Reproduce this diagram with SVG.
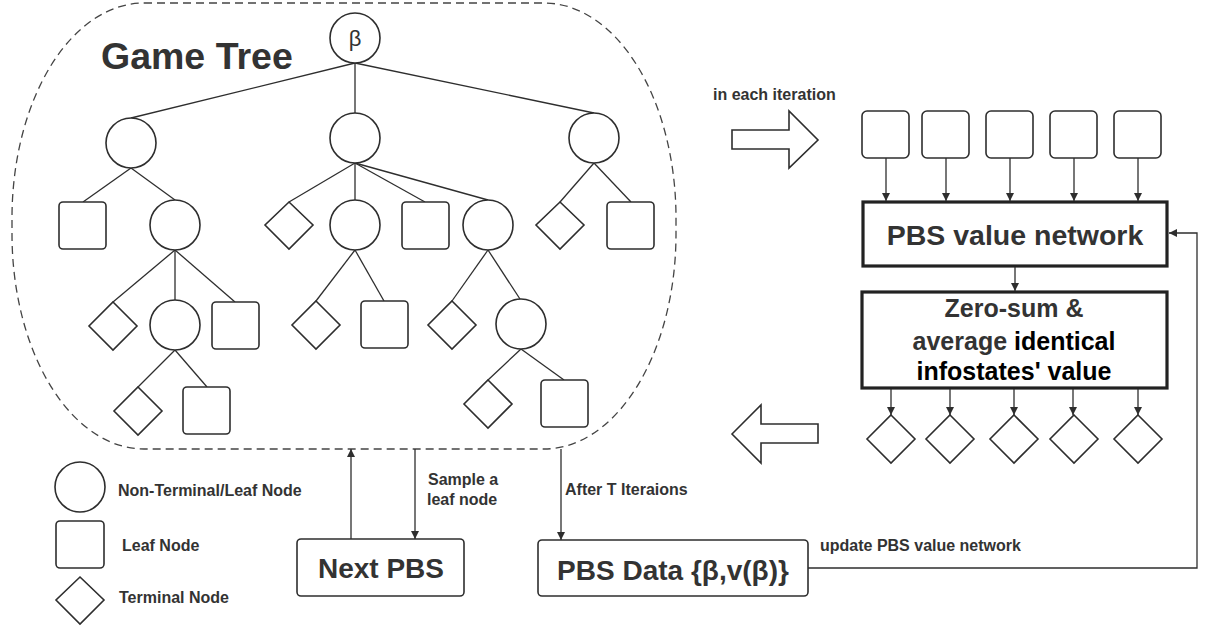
<svg xmlns="http://www.w3.org/2000/svg" width="1205" height="627" viewBox="0 0 1205 627">
<defs>
<style>
.n{fill:#fff;stroke:#2e2e2e;stroke-width:1.6}
.e{stroke:#2e2e2e;stroke-width:1.3;fill:none}
.a{stroke:#2e2e2e;stroke-width:1.3;fill:none;marker-end:url(#ah)}
.b{fill:#fff;stroke:#222;stroke-width:3.2}
.t{font-family:"Liberation Sans",Arial,sans-serif;font-weight:bold;fill:#333}
.s{font-size:16px}
.m{text-anchor:middle}
</style>
<marker id="ah" viewBox="0 0 10 10" refX="10" refY="5" markerWidth="8" markerHeight="8" markerUnits="userSpaceOnUse" orient="auto">
<path d="M0,0 L10,5 L0,10 z" fill="#2e2e2e"/>
</marker>
</defs>
<rect width="1205" height="627" fill="#fff"/>

<g id="container">
<rect x="12" y="3" width="664" height="446" rx="132" ry="215" fill="none" stroke="#444" stroke-width="1.3" stroke-dasharray="8 5"/>
<text class="t" x="101" y="69" font-size="37.5">Game Tree</text>
</g>

<g id="tree-edges">
<line class="e" x1="355" y1="63" x2="131" y2="118"/>
<line class="e" x1="355" y1="63" x2="355" y2="113"/>
<line class="e" x1="355" y1="63" x2="594" y2="113"/>
<line class="e" x1="131" y1="168" x2="83" y2="202"/>
<line class="e" x1="131" y1="168" x2="175" y2="200"/>
<line class="e" x1="355" y1="163" x2="289" y2="202"/>
<line class="e" x1="355" y1="163" x2="355" y2="200"/>
<line class="e" x1="355" y1="163" x2="425" y2="202"/>
<line class="e" x1="355" y1="163" x2="488" y2="200"/>
<line class="e" x1="594" y1="163" x2="560" y2="202"/>
<line class="e" x1="594" y1="163" x2="631" y2="202"/>
<line class="e" x1="175" y1="250" x2="113" y2="302"/>
<line class="e" x1="175" y1="250" x2="175" y2="300"/>
<line class="e" x1="175" y1="250" x2="235" y2="302"/>
<line class="e" x1="355" y1="250" x2="316" y2="301"/>
<line class="e" x1="355" y1="250" x2="384" y2="301"/>
<line class="e" x1="488" y1="250" x2="452" y2="301"/>
<line class="e" x1="488" y1="250" x2="520" y2="299"/>
<line class="e" x1="175" y1="350" x2="138" y2="387"/>
<line class="e" x1="175" y1="350" x2="207" y2="387"/>
<line class="e" x1="521" y1="349" x2="488" y2="380"/>
<line class="e" x1="521" y1="349" x2="564" y2="380"/>
</g>

<g id="root"><circle class="n" cx="355" cy="38" r="25"/><text x="355" y="46" font-size="22" text-anchor="middle" font-family="Liberation Sans,Arial,sans-serif" fill="#333">β</text></g>
<g id="c1"><circle class="n" cx="131" cy="143" r="25"/></g>
<g id="c2"><circle class="n" cx="355" cy="138" r="25"/></g>
<g id="c3"><circle class="n" cx="594" cy="138" r="25"/></g>
<g id="s1"><rect class="n" x="59" y="202" width="47" height="47" rx="4"/></g>
<g id="c4"><circle class="n" cx="175" cy="225" r="25"/></g>
<g id="d1"><polygon class="n" points="289,202 313,225 289,249 265,225"/></g>
<g id="c5"><circle class="n" cx="355" cy="225" r="25"/></g>
<g id="s2"><rect class="n" x="402" y="202" width="47" height="47" rx="4"/></g>
<g id="c6"><circle class="n" cx="488" cy="225" r="25"/></g>
<g id="d2"><polygon class="n" points="560,202 584,225 560,249 536,225"/></g>
<g id="s3"><rect class="n" x="607" y="202" width="47" height="47" rx="4"/></g>
<g id="d3"><polygon class="n" points="113,302 137,326 113,350 89,326"/></g>
<g id="c7"><circle class="n" cx="175" cy="325" r="25"/></g>
<g id="s4"><rect class="n" x="212" y="302" width="47" height="47" rx="4"/></g>
<g id="d4"><polygon class="n" points="316,301 340,325 316,349 292,325"/></g>
<g id="s5"><rect class="n" x="361" y="301" width="47" height="47" rx="4"/></g>
<g id="d5"><polygon class="n" points="452,301 476,325 452,349 428,325"/></g>
<g id="c8"><circle class="n" cx="521" cy="324" r="25"/></g>
<g id="d6"><polygon class="n" points="138,387 162,411 138,435 114,411"/></g>
<g id="s6"><rect class="n" x="183" y="387" width="47" height="47" rx="4"/></g>
<g id="d7"><polygon class="n" points="488,380 512,404 488,428 464,404"/></g>
<g id="s7"><rect class="n" x="541" y="380" width="47" height="47" rx="4"/></g>

<g id="legend">
<circle class="n" cx="80" cy="487" r="25"/>
<text class="t s" x="118" y="496">Non-Terminal/Leaf Node</text>
<rect class="n" x="56" y="521" width="48" height="47" rx="4"/>
<text class="t s" x="122" y="551">Leaf Node</text>
<polygon class="n" points="80,577 104,600 80,624 56,600"/>
<text class="t s" x="119" y="603">Terminal Node</text>
</g>

<g id="iter-arrow">
<polygon class="n" points="732,130 789,130 789,111 818,140 789,168 789,149 732,149"/>
<text class="t s" x="713" y="100">in each iteration</text>
</g>
<g id="back-arrow">
<polygon class="n" points="732,434 761,405 761,424 818,424 818,443 761,443 761,463"/>
</g>

<g id="inputs">
<rect class="n" x="862" y="111" width="47" height="47" rx="5"/>
<rect class="n" x="922" y="111" width="47" height="47" rx="5"/>
<rect class="n" x="986" y="111" width="47" height="47" rx="5"/>
<rect class="n" x="1050" y="111" width="47" height="47" rx="5"/>
<rect class="n" x="1114" y="111" width="47" height="47" rx="5"/>
</g>

<g id="value-net">
<rect class="b" x="863" y="202" width="304" height="64"/>
<text class="t m" x="1015" y="245" font-size="28.5">PBS value network</text>
</g>

<g id="zero-sum">
<rect class="b" x="862" y="292" width="305" height="96"/>
<text class="t m" x="1014" y="317" font-size="25">Zero-sum &amp;</text>
<text class="t m" x="1014" y="350" font-size="25">average <tspan style="fill:#000">identical</tspan></text>
<text class="t m" x="1014" y="380" font-size="25" style="fill:#000">infostates' value</text>
</g>

<g id="outputs">
<polygon class="n" points="891,415 915,439 891,463 867,439"/>
<polygon class="n" points="950,415 974,439 950,463 926,439"/>
<polygon class="n" points="1014,415 1038,439 1014,463 990,439"/>
<polygon class="n" points="1074,415 1098,439 1074,463 1050,439"/>
<polygon class="n" points="1138,415 1162,439 1138,463 1114,439"/>
</g>

<g id="next-pbs">
<rect class="n" x="297" y="539" width="167" height="57" rx="4"/>
<text class="t m" x="381" y="578" font-size="28">Next PBS</text>
</g>
<g id="pbs-data">
<rect class="n" x="538" y="540" width="270" height="56" rx="4"/>
<text class="t m" x="673" y="580" font-size="28">PBS Data {β,v(β)}</text>
</g>

<g id="connectors">
<line class="a" x1="886" y1="158" x2="886" y2="201"/>
<line class="a" x1="946" y1="158" x2="946" y2="201"/>
<line class="a" x1="1010" y1="158" x2="1010" y2="201"/>
<line class="a" x1="1074" y1="158" x2="1074" y2="201"/>
<line class="a" x1="1138" y1="158" x2="1138" y2="201"/>
<line class="a" x1="1015" y1="267" x2="1015" y2="291"/>
<line class="a" x1="891" y1="389" x2="891" y2="415"/>
<line class="a" x1="950" y1="389" x2="950" y2="415"/>
<line class="a" x1="1014" y1="389" x2="1014" y2="415"/>
<line class="a" x1="1073" y1="389" x2="1073" y2="415"/>
<line class="a" x1="1138" y1="389" x2="1138" y2="415"/>
<polyline class="a" points="808,568 1197,568 1197,233 1169,233"/>
<line class="a" x1="351" y1="539" x2="351" y2="449"/>
<line class="a" x1="415" y1="449" x2="415" y2="539"/>
<line class="a" x1="561" y1="449" x2="561" y2="540"/>
<text class="t s" x="428" y="485">Sample a</text>
<text class="t s" x="427" y="505">leaf node</text>
<text class="t s" x="565" y="495">After T Iteraions</text>
<text class="t s" x="820" y="551">update PBS value network</text>
</g>
</svg>
